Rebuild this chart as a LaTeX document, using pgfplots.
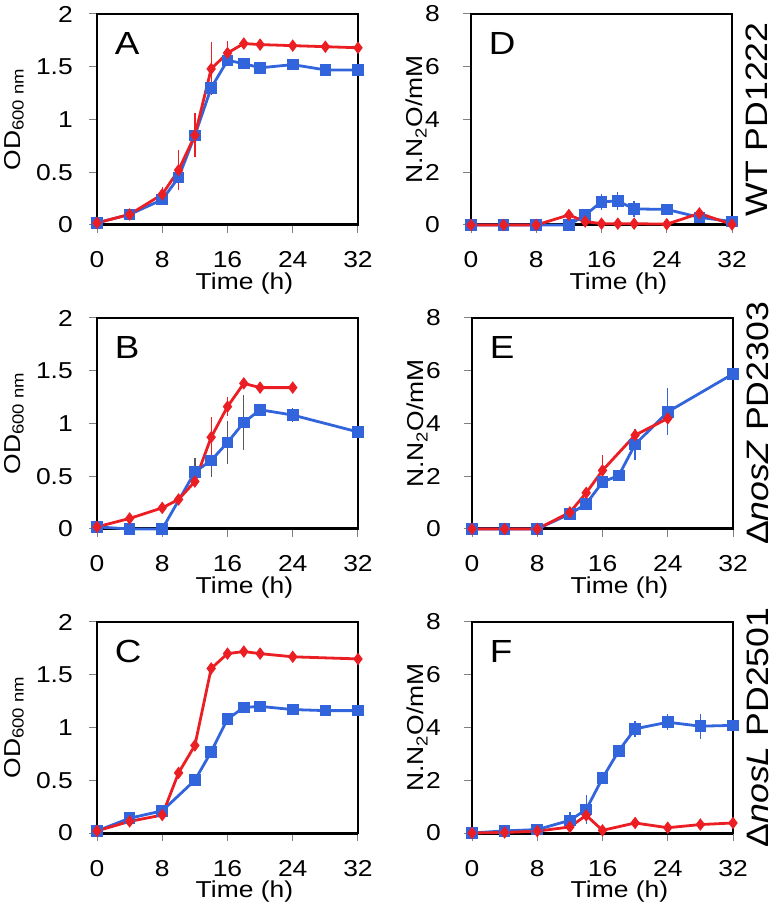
\documentclass[border=0pt]{standalone}
\usepackage{pgfplots}
\pgfplotsset{compat=1.18}
\usepackage{fontspec}
\setmainfont{Liberation Sans}[FakeStretch=1.15]

\definecolor{myblue}{RGB}{50,100,220}
\definecolor{myred}{RGB}{235,30,35}

\newcommand\tickfont{\fontsize{23}{27}\selectfont}
\newcommand\bigfont{\fontsize{32}{36}\selectfont}
\newcommand\sidefont{\fontsize{31}{36}\selectfont}

\pgfplotsset{
  panel/.style={
    scale only axis, width=261pt, height=211pt,
    xmin=0, xmax=32, ymin=0, xtick={0,8,16,24,32},
    clip=false,
    axis line style={black, line width=1.3pt},
    tick align=outside, major tick length=8pt,
    tick style={gray, line width=1pt},
    xtick pos=left, ytick pos=left,
    /pgf/number format/assume math mode=true,
    tick label style={font=\tickfont},
    xticklabel style={anchor=base, yshift=-35pt},
    label style={font=\tickfont},
    xlabel={Time (h)},
    xlabel style={at={(axis description cs:0.565,-0.305)}, anchor=base},
    extra y ticks={0}, extra y tick labels={},
    extra y tick style={grid=major, major grid style={black, line width=3pt}},
    error bars/y dir=both, error bars/y explicit,
    error bars/error mark=none,
  },
  odpanel/.style={panel, ymax=2, ytick={0,0.5,1,1.5,2},
    yticklabel style={anchor=east, inner sep=0pt, xshift=-16pt},
    ylabel={OD\textsubscript{600 nm}},
    ylabel style={at={(axis description cs:-0.295,0.5)}, anchor=base}},
  nopanel/.style={panel, ymax=8, ytick={0,2,4,6,8},
    yticklabel style={anchor=east, inner sep=0pt, xshift=-23pt},
    ylabel={N.N\textsubscript{2}O/mM},
    ylabel style={at={(axis description cs:-0.184,0.5)}, anchor=base}},
  bl/.style={myblue, line width=2.8pt, mark=square*, mark size=4.4pt,
    mark options={solid},
    error bars/error bar style={myblue, line width=1.3pt}},
  rd/.style={myred, line width=2.8pt, mark=diamond*, mark size=4pt,
    mark options={solid},
    error bars/error bar style={myred, line width=1.3pt}},
}

\begin{document}
\begin{tikzpicture}[x=1pt,y=1pt]
\useasboundingbox (0,0) rectangle (776,910);

% A
\begin{axis}[odpanel, at={(97pt,685pt)}, anchor=south west]
\addplot+[bl] coordinates {(0,0.02) (4,0.10) (8,0.24) (10,0.45) (12,0.85) (14,1.30) (16,1.56) (18,1.53) (20,1.49) (24,1.52) (28,1.47) (32,1.47)};
\addplot+[rd] coordinates {(0,0.02) +- (0,0) (4,0.10) +- (0,0.01) (8,0.29) +- (0,0.07) (10,0.52) +- (0,0.19) (12,0.85) +- (0,0.21) (14,1.48) +- (0,0.25) (16,1.63) +- (0,0.11) (18,1.72) +- (0,0) (20,1.71) +- (0,0) (24,1.70) +- (0,0) (28,1.69) +- (0,0) (32,1.68) +- (0,0)};
\node[font=\bigfont, anchor=west] at (rel axis cs:0.055,0.86) {A};
\end{axis}

% B
\begin{axis}[odpanel, at={(97pt,381pt)}, anchor=south west]
\addplot+[bl, error bars/error bar style={gray!70!black, line width=1.3pt}] coordinates {(0,0.02) +- (0,0) (4,0) +- (0,0) (8,0) +- (0,0) (12,0.54) +- (0,0.13) (14,0.65) +- (0,0.16) (16,0.82) +- (0,0.20) (18,1.01) +- (0,0.26) (20,1.13) +- (0,0.04) (24,1.08) +- (0,0.07) (32,0.92) +- (0,0)};
\addplot+[rd] coordinates {(0,0.02) +- (0,0) (4,0.10) +- (0,0) (8,0.20) +- (0,0) (10,0.28) +- (0,0) (12,0.45) +- (0,0.05) (14,0.87) +- (0,0.19) (16,1.16) +- (0,0.09) (18,1.38) +- (0,0) (20,1.34) +- (0,0) (24,1.34) +- (0,0)};
\node[font=\bigfont, anchor=west] at (rel axis cs:0.055,0.86) {B};
\end{axis}

% C
\begin{axis}[odpanel, at={(97pt,77pt)}, anchor=south west]
\addplot+[bl] coordinates {(0,0.02) (4,0.14) (8,0.21) (12,0.50) (14,0.77) (16,1.08) (18,1.19) (20,1.20) (24,1.17) (28,1.16) (32,1.16)};
\addplot+[rd] coordinates {(0,0.02) (4,0.11) (8,0.17) (10,0.57) (12,0.83) (14,1.56) (16,1.70) (18,1.72) (20,1.70) (24,1.67) (32,1.65)};
\node[font=\bigfont, anchor=west] at (rel axis cs:0.055,0.86) {C};
\end{axis}

% D
\begin{axis}[nopanel, at={(471pt,685pt)}, anchor=south west]
\addplot+[bl] coordinates {(0,0) +- (0,0) (4,0) +- (0,0) (8,0) +- (0,0) (12,0) +- (0,0) (14,0.38) +- (0,0.05) (16,0.88) +- (0,0.30) (18,0.91) +- (0,0.35) (20,0.61) +- (0,0.30) (24,0.59) +- (0,0.10) (28,0.29) +- (0,0) (32,0.13) +- (0,0)};
\addplot+[rd] coordinates {(0,0) (4,0) (8,0) (12,0.38) (14,0.13) (16,0.05) (18,0.05) (20,0.05) (24,0.03) (28,0.44) (32,0.02)};
\node[font=\bigfont, anchor=west] at (rel axis cs:0.055,0.86) {D};
\node[font=\sidefont, rotate=90, anchor=base] at (axis description cs:1.137,0.5) {WT PD1222};
\end{axis}

% E
\begin{axis}[nopanel, at={(472pt,381pt)}, anchor=south west]
\addplot+[bl] coordinates {(0,0) +- (0,0) (4,0) +- (0,0) (8,0) +- (0,0) (12,0.57) +- (0,0) (14,0.95) +- (0,0) (16,1.78) +- (0,0) (18,2.03) +- (0,0) (20,3.21) +- (0,0.59) (24,4.44) +- (0,0.89) (32,5.88) +- (0,0)};
\addplot+[rd] coordinates {(0,0) +- (0,0) (4,0) +- (0,0) (8,0) +- (0,0) (12,0.63) +- (0,0) (14,1.37) +- (0,0.10) (16,2.22) +- (0,0.60) (20,3.56) +- (0,0.15) (24,4.19) +- (0,0.10)};
\node[font=\bigfont, anchor=west] at (rel axis cs:0.055,0.86) {E};
\node[font=\sidefont, rotate=90, anchor=base] at (axis description cs:1.137,0.5) {Δ\textit{nosZ} PD2303};
\end{axis}

% F
\begin{axis}[nopanel, at={(472pt,77pt)}, anchor=south west]
\addplot+[bl] coordinates {(0,0) +- (0,0) (4,0.08) +- (0,0) (8,0.13) +- (0,0) (12,0.48) +- (0,0.30) (14,0.89) +- (0,0.55) (16,2.08) +- (0,0.10) (18,3.12) +- (0,0.20) (20,3.95) +- (0,0.30) (24,4.20) +- (0,0.30) (28,4.05) +- (0,0.48) (32,4.08) +- (0,0)};
\addplot+[rd] coordinates {(0,0) +- (0,0) (4,0.02) +- (0,0) (8,0.07) +- (0,0) (12,0.23) +- (0,0) (14,0.67) +- (0,0.20) (16,0.10) +- (0,0) (20,0.38) +- (0,0.18) (24,0.20) +- (0,0) (28,0.32) +- (0,0.15) (32,0.38) +- (0,0)};
\node[font=\bigfont, anchor=west] at (rel axis cs:0.055,0.86) {F};
\node[font=\sidefont, rotate=90, anchor=base] at (axis description cs:1.137,0.5) {Δ\textit{nosL} PD2501};
\end{axis}
\end{tikzpicture}
\end{document}
